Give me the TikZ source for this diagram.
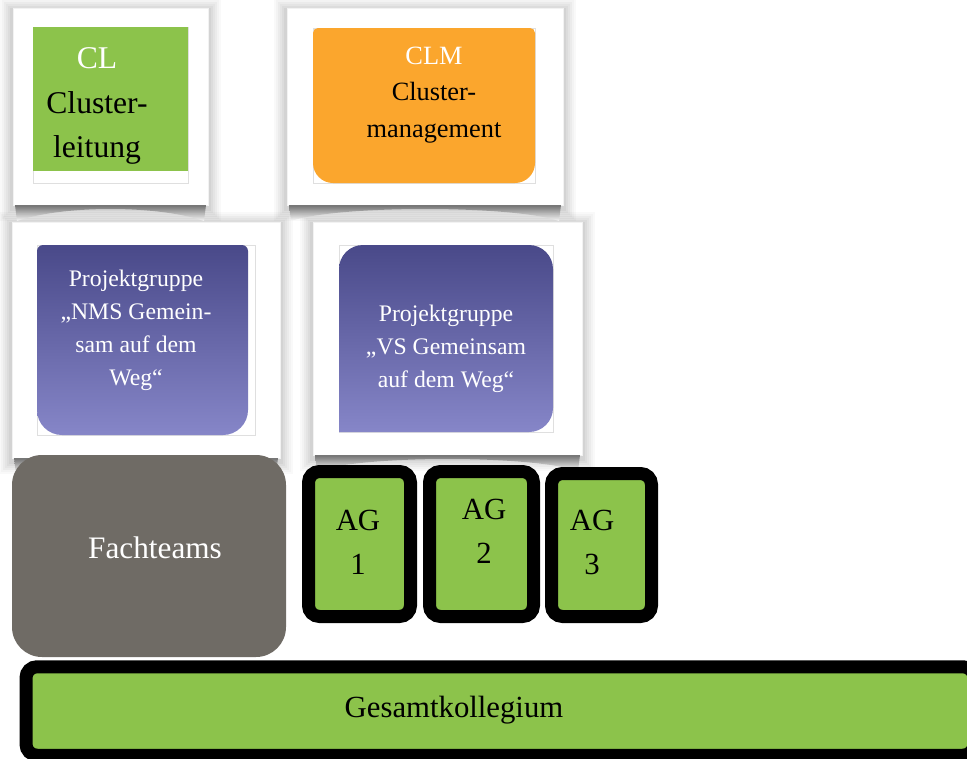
\documentclass[tikz,border=0pt]{standalone}
\usepackage{fontspec}
\setmainfont{Liberation Serif}
\usepackage{xcolor}

\definecolor{clgreen}{RGB}{140,195,75}
\definecolor{clmorange}{RGB}{251,166,45}
\definecolor{pgtop}{RGB}{73,73,137}
\definecolor{pgbottom}{RGB}{134,134,200}
\definecolor{fachgrey}{RGB}{111,107,101}

\newlength{\px}
\setlength{\px}{0.02cm}

% curved shadow under a white frame
\newcommand{\liftshadow}[1]{%
  \shade[top color=black!65, bottom color=white, opacity=.8]
    ([xshift=2\px]#1.south west) -- ([xshift=-2\px]#1.south east)
    -- ([shift={(-4,16)}]#1.south east)
    .. controls ([shift={(-50,0)}]#1.south east) and ([shift={(50,0)}]#1.south west)
    .. ([shift={(4,16)}]#1.south west) -- cycle;}

\begin{document}
\begin{tikzpicture}[
  x=0.02cm, y=-0.02cm,
  softshadow/.style={
    preaction={draw=black, fill=none, opacity=.025, line width=26\px, transform canvas={yshift=-3\px}},
    preaction={draw=black, fill=none, opacity=.025, line width=22\px, transform canvas={yshift=-3\px}},
    preaction={draw=black, fill=none, opacity=.03, line width=18\px, transform canvas={yshift=-3\px}},
    preaction={draw=black, fill=none, opacity=.03, line width=14\px, transform canvas={yshift=-3\px}},
    preaction={draw=black, fill=none, opacity=.035, line width=10\px, transform canvas={yshift=-3\px}},
    preaction={draw=black, fill=none, opacity=.04, line width=6\px, transform canvas={yshift=-3\px}}},
  whiteframe/.style={anchor=north west, fill=white, draw=gray!10, inner sep=0, outer sep=0, softshadow},
  innerbox/.style={anchor=north west, fill=white, draw=gray!25, inner sep=0, outer sep=0},
  agbox/.style={draw=black, line width=13\px, fill=clgreen, rounded corners=11\px, inner sep=0, outer sep=0},
  pgshade/.style={top color=pgtop, bottom color=pgbottom},
  boxtext/.style={inner sep=0, align=center}
]
\useasboundingbox (0,0) rectangle (967,758);

% white frames
\node[whiteframe, minimum width=195\px, minimum height=197\px] (clframe) at (13,8) {};
\node[whiteframe, minimum width=276\px, minimum height=197\px] (clmframe) at (287,8) {};
\node[whiteframe, minimum width=268\px, minimum height=236\px] (nmsframe) at (12,222) {};
\node[whiteframe, minimum width=269\px, minimum height=233\px] (vsframe) at (313,222) {};
\liftshadow{clframe}
\liftshadow{clmframe}
\liftshadow{nmsframe}
\liftshadow{vsframe}

% coloured boxes
\node[innerbox, minimum width=155\px, minimum height=156\px] (clbox) at (33,27) {};
\fill[clgreen] (clbox.north west) rectangle ([yshift=12\px]clbox.south east);

\node[innerbox, minimum width=222\px, minimum height=155\px] (clmbox) at (313,28) {};
\fill[clmorange, rounded corners=5\px] (clmbox.west) |- (clmbox.north east) -- (clmbox.east)
  [rounded corners=20\px] |- (clmbox.south west) -- cycle;

\node[innerbox, minimum width=218\px, minimum height=190\px] (nmsbox) at (37,245) {};
\shade[pgshade, rounded corners=6\px] (nmsbox.west) |- ([xshift=-7\px]nmsbox.north east)
  [rounded corners=25\px] -- ([xshift=-7\px]nmsbox.south east) -- (nmsbox.south west)
  [rounded corners=6\px] -- cycle;

\node[innerbox, minimum width=214\px, minimum height=187\px] (vsbox) at (339,245) {};
\shade[pgshade, rounded corners=24\px] (vsbox.south west) |- (vsbox.north) -| (vsbox.south east)
  [sharp corners] -- cycle;

% lower part
\node[anchor=north west, fill=fachgrey, rounded corners=30\px, minimum width=274\px,
  minimum height=202\px, inner sep=0, outer sep=0] (fachteams) at (12,455) {};
\node[agbox, minimum width=102\px, minimum height=145\px] (ag1) at (359.5,544) {};
\node[agbox, minimum width=104\px, minimum height=145\px] (ag2) at (481.5,544) {};
\node[agbox, minimum width=100\px, minimum height=143\px] (ag3) at (601.5,545) {};
\node[agbox, minimum width=948\px, minimum height=88.5\px] (gesamt) at (500,711) {};

% texts
\node[boxtext, font=\fontsize{18}{25.5}\selectfont] (cltext) at (97,106)
  {\textcolor{white}{CL}\\Cluster-\\leitung};
\node[boxtext, font=\fontsize{15}{20.7}\selectfont] (clmtext) at (434,95)
  {\textcolor{white}{CLM}\\Cluster-\\management};
\node[boxtext, text=white, font=\fontsize{13.5}{18.7}\selectfont] (nmstext) at (136,330.5)
  {Projektgruppe\\„NMS Gemein-\\sam auf dem\\Weg“};
\node[boxtext, text=white, font=\fontsize{13.5}{18.7}\selectfont] (vstext) at (446,349)
  {Projektgruppe\\„VS Gemeinsam\\auf dem Weg“};
\node[boxtext, text=white, font=\fontsize{17.8}{22}\selectfont] (fachtext) at (155,547.5) {Fachteams};
\node[boxtext, font=\fontsize{17.5}{25}\selectfont] (ag1text) at (358,542) {AG\\1};
\node[boxtext, font=\fontsize{17.5}{25}\selectfont] (ag2text) at (484,531.5) {AG\\2};
\node[boxtext, font=\fontsize{17.5}{25}\selectfont] (ag3text) at (592,542.5) {AG\\3};
\node[boxtext, font=\fontsize{17.5}{21}\selectfont] (gesamttext) at (454,710.5) {Gesamtkollegium};
\end{tikzpicture}
\end{document}
